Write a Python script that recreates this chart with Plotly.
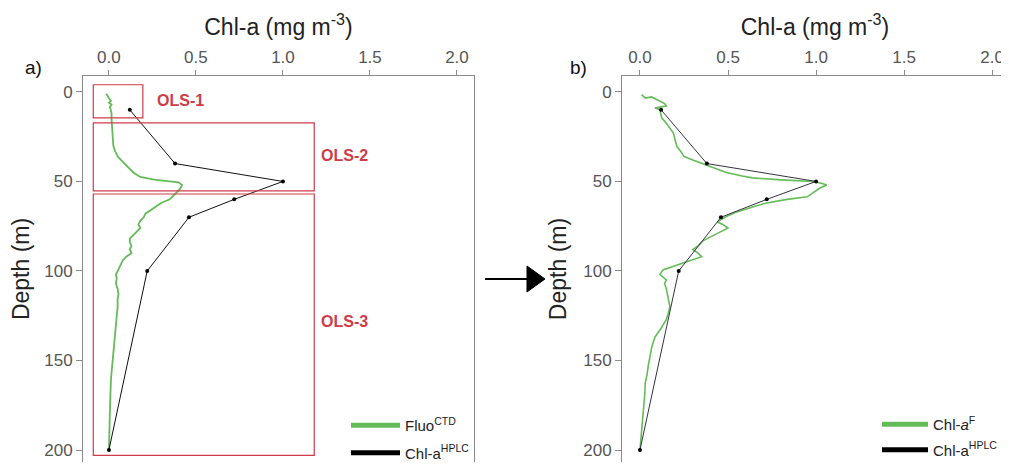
import plotly.graph_objects as go

# ---------------- data ----------------
# Panel a: Fluo CTD profile
fluo_depth = [1, 2, 3.5, 5, 6, 7, 8.5, 10, 12, 15, 20, 25, 30, 33, 36, 39, 42, 45,
              47.5, 49, 50.5, 52, 54, 56, 58, 60, 62, 64, 66, 68, 70, 72, 74, 76,
              78, 80, 82, 84, 86, 88, 90, 92, 94, 96, 98, 100, 102, 104, 107, 110,
              113, 116, 120, 125, 130, 135, 140, 145, 150, 155, 160, 170, 180, 190, 200]
fluo_val = [-0.015, -0.01, 0.0, 0.012, 0.0, 0.015, 0.005, 0.01, 0.015, 0.015, 0.018, 0.02,
            0.025, 0.035, 0.05, 0.08, 0.11, 0.14, 0.18, 0.26, 0.40, 0.42, 0.41, 0.39,
            0.37, 0.35, 0.30, 0.27, 0.24, 0.21, 0.20, 0.18, 0.17, 0.18, 0.16, 0.14,
            0.12, 0.12, 0.13, 0.12, 0.13, 0.10, 0.08, 0.07, 0.06, 0.05, 0.04, 0.045,
            0.04, 0.05, 0.055, 0.05, 0.05, 0.045, 0.04, 0.035, 0.03, 0.025, 0.02,
            0.015, 0.012, 0.008, 0.005, 0.002, 0.0]

# Panel b: Chl-a F (calibrated fluorescence) profile
chlf_depth = [1.5, 2.5, 3.4, 2.8, 4.5, 6.5, 7.8, 8.5, 9, 10, 12, 14.5, 17.5, 20, 23, 27,
              30.5, 33, 36, 38, 40.8, 43, 45, 47, 48, 49, 50, 51, 52, 53.8, 56, 58.6,
              60, 62, 64.5, 67, 69.6, 72.6, 74, 76, 79, 81, 83, 86, 88, 90, 92, 95.5,
              97.5, 99.4, 102, 105, 107, 110, 115, 120, 124, 127, 132, 137, 142, 148,
              153, 158, 162.6, 168, 174, 182, 190, 200]
chlf_val = [0.01, 0.02, 0.03, 0.066, 0.10, 0.14, 0.15, 0.10, 0.085, 0.114, 0.12, 0.123,
            0.15, 0.17, 0.19, 0.20, 0.21, 0.23, 0.25, 0.30, 0.38, 0.44, 0.49, 0.58, 0.64,
            0.78, 0.98, 1.03, 1.06, 1.02, 0.99, 0.95, 0.835, 0.72, 0.63, 0.55, 0.49, 0.44,
            0.47, 0.50, 0.44, 0.40, 0.36, 0.33, 0.30, 0.33, 0.35, 0.245, 0.18, 0.13,
            0.114, 0.15, 0.14, 0.15, 0.16, 0.17, 0.16, 0.15, 0.12, 0.085, 0.068, 0.055,
            0.047, 0.04, 0.03, 0.028, 0.023, 0.015, 0.01, 0.0]

# HPLC samples (both panels)
hplc_depth = [10, 40, 50, 60, 70, 100, 200]
hplc_val = [0.12, 0.38, 1.0, 0.72, 0.46, 0.22, 0.0]

# OLS layers (panel a)
ols_labels = ["OLS-1", "OLS-2", "OLS-3"]
ols_chl_min = [-0.09, -0.09, -0.09]
ols_chl_max = [0.195, 1.18, 1.18]
ols_depth_top = [-4, 17.3, 57]
ols_depth_bottom = [14.5, 55.3, 203]
ols_label_chl = [0.265, 1.21, 1.21]
ols_label_depth = [5, 35.5, 128.5]

x_ticks = [0, 0.5, 1.0, 1.5, 2.0]
x_ticktext = ["0.0", "0.5", "1.0", "1.5", "2.0"]
y_ticks = [0, 50, 100, 150, 200]

# ---------------- style ----------------
W, H = 1009, 464
OFF = 8  # default page body margin
GREEN = "rgb(100,188,88)"
RED = "rgb(205,60,72)"
AXC = "#8a8a8a"
FONT = "Liberation Sans, Arial, sans-serif"
TICKF = dict(family=FONT, size=17, color="#555555")
TITLEF = dict(family=FONT, size=23, color="#222222")


def px(x):
    return (x - OFF) / W


def py(y):
    return 1 - (y - OFF) / H


fig = go.Figure()

# Panel a
fig.add_trace(go.Scatter(x=fluo_val, y=fluo_depth, mode="lines",
                         line=dict(color=GREEN, width=1.8), showlegend=False,
                         xaxis="x", yaxis="y"))
fig.add_trace(go.Scatter(x=hplc_val, y=hplc_depth, mode="lines+markers",
                         line=dict(color="#111111", width=1),
                         marker=dict(color="black", size=4), showlegend=False,
                         xaxis="x", yaxis="y"))
# Panel b
fig.add_trace(go.Scatter(x=chlf_val, y=chlf_depth, mode="lines",
                         line=dict(color=GREEN, width=1.6), showlegend=False,
                         xaxis="x2", yaxis="y2"))
fig.add_trace(go.Scatter(x=hplc_val, y=hplc_depth, mode="lines+markers",
                         line=dict(color="#333344", width=1),
                         marker=dict(color="black", size=4), showlegend=False,
                         xaxis="x2", yaxis="y2"))

# Legend entries (thick keys)
fig.add_trace(go.Scatter(x=[None], y=[None], mode="lines", name="Fluo<sup>CTD</sup>",
                         line=dict(color=GREEN, width=5), legend="legend",
                         legendgroup="a1", xaxis="x", yaxis="y"))
fig.add_trace(go.Scatter(x=[None], y=[None], mode="lines", name="Chl-a<sup>HPLC</sup>",
                         line=dict(color="black", width=5), legend="legend",
                         legendgroup="a2", xaxis="x", yaxis="y"))
fig.add_trace(go.Scatter(x=[None], y=[None], mode="lines", name="Chl-<i>a</i><sup>F</sup>",
                         line=dict(color=GREEN, width=5), legend="legend2",
                         legendgroup="b1", xaxis="x2", yaxis="y2"))
fig.add_trace(go.Scatter(x=[None], y=[None], mode="lines", name="Chl-a<sup>HPLC</sup>",
                         line=dict(color="black", width=5), legend="legend2",
                         legendgroup="b2", xaxis="x2", yaxis="y2"))

shapes = []
annotations = []
for lab, x0, x1, y0, y1, lx, ly in zip(ols_labels, ols_chl_min, ols_chl_max,
                                       ols_depth_top, ols_depth_bottom,
                                       ols_label_chl, ols_label_depth):
    shapes.append(dict(type="rect", xref="x", yref="y", x0=x0, x1=x1, y0=y0, y1=y1,
                       line=dict(color=RED, width=1.2), fillcolor="rgba(0,0,0,0)"))
    annotations.append(dict(text="<b>%s</b>" % lab, x=lx, y=ly, xref="x", yref="y",
                            xanchor="left", yanchor="middle", showarrow=False,
                            font=dict(family=FONT, size=16, color=RED)))

# Arrow between panels
shapes.append(dict(type="line", xref="paper", yref="paper",
                   x0=px(485), x1=px(530), y0=py(279), y1=py(279),
                   line=dict(color="black", width=2)))
shapes.append(dict(type="path", xref="paper", yref="paper",
                   path="M %f %f L %f %f L %f %f Z" % (px(527), py(266), px(545), py(279),
                                                      px(527), py(292)),
                   fillcolor="black", line=dict(color="black", width=1)))

annotations.append(dict(text="a)", x=px(33), y=py(68), xref="paper", yref="paper",
                        xanchor="center", yanchor="middle",
                        showarrow=False, font=dict(family=FONT, size=19, color="#111")))
annotations.append(dict(text="b)", x=px(578), y=py(68), xref="paper", yref="paper",
                        xanchor="center", yanchor="middle",
                        showarrow=False, font=dict(family=FONT, size=19, color="#111")))

common_x = dict(side="top", showline=True, linecolor=AXC, linewidth=1, ticks="outside",
                ticklen=5, tickcolor=AXC, showgrid=False, zeroline=False,
                tickvals=x_ticks, ticktext=x_ticktext, tickfont=TICKF,
                ticklabeloverflow="allow",
                title=dict(text="Chl-a (mg m<sup>-3</sup>)", font=TITLEF, standoff=6),
                automargin=False, fixedrange=True)
common_y = dict(showline=True, linecolor=AXC, linewidth=1, ticks="outside", ticklen=6,
                tickcolor=AXC, showgrid=False, zeroline=False, tickvals=y_ticks,
                tickfont=TICKF, range=[206.7, -8.9], domain=[py(462), py(76)],
                ticklabeloverflow="allow",
                title=dict(text="Depth (m)", font=TITLEF, standoff=10),
                automargin=False, fixedrange=True)

fig.update_layout(
    width=W, height=H,
    margin=dict(l=0, r=0, t=0, b=0),
    paper_bgcolor="white", plot_bgcolor="white",
    font=dict(family=FONT),
    xaxis=dict(common_x, domain=[px(83), px(474)], range=[-0.149, 2.098], anchor="y"),
    yaxis=dict(common_y, anchor="x", mirror=True),
    xaxis2=dict(common_x, domain=[px(622), px(1008)], range=[-0.102, 2.09], anchor="y2"),
    yaxis2=dict(common_y, anchor="x2"),
    legend=dict(x=px(346), y=py(409), xanchor="left", yanchor="top",
                bgcolor="rgba(0,0,0,0)", font=dict(family=FONT, size=15, color="#222"),
                tracegroupgap=5, itemwidth=49),
    legend2=dict(x=px(877), y=py(408), xanchor="left", yanchor="top",
                 bgcolor="rgba(0,0,0,0)", font=dict(family=FONT, size=15, color="#222"),
                 tracegroupgap=3, itemwidth=46),
    shapes=shapes,
    annotations=annotations,
)

fig.write_html("out.html", config={"displayModeBar": False})
